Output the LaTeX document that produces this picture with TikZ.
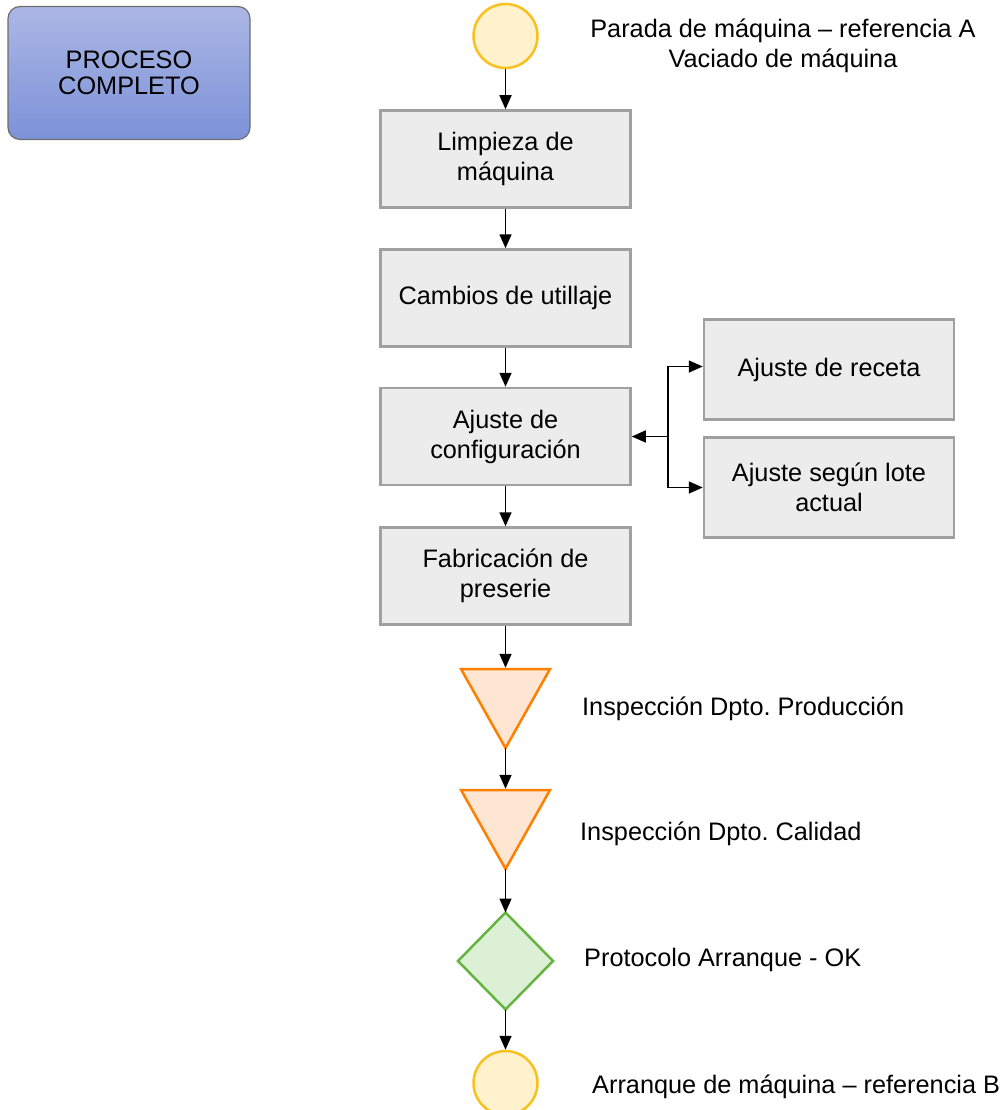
\documentclass[tikz,border=0pt]{standalone}
\usepackage{fontspec}
\setmainfont{Liberation Sans}
\usetikzlibrary{arrows.meta,shapes.geometric}
\frenchspacing

\definecolor{boxfill}{RGB}{236,236,236}
\definecolor{boxline}{RGB}{160,160,160}
\definecolor{termfill}{RGB}{255,242,204}
\definecolor{termline}{RGB}{250,192,30}
\definecolor{inspfill}{RGB}{255,230,210}
\definecolor{inspline}{RGB}{255,128,0}
\definecolor{okfill}{RGB}{220,240,214}
\definecolor{okline}{RGB}{102,180,64}
\definecolor{proctop}{RGB}{172,183,228}
\definecolor{procbot}{RGB}{124,146,216}
\definecolor{procline}{RGB}{110,110,110}

\begin{document}
\begin{tikzpicture}[x=1pt,y=-1pt,
  every node/.style={font=\fontsize{25.3}{30}\selectfont},
  stepbox/.style={draw=boxline, fill=boxfill, line width=2.5pt,
    minimum width=250pt, minimum height=97pt, align=center, inner sep=0pt},
  sidebox/.style={stepbox, minimum height=100pt},
  terminal/.style={circle, draw=termline, fill=termfill, line width=2.5pt,
    minimum size=64pt, inner sep=0pt},
  inspect/.style={draw=inspline, fill=inspfill, line width=2.5pt},
  check/.style={diamond, draw=okline, fill=okfill, line width=2.5pt,
    minimum width=95pt, minimum height=97pt, inner sep=0pt, outer sep=0pt},
  lbl/.style={inner sep=0pt},
  arr/.style={draw=black, line width=1.6pt, -{Triangle[length=14pt,width=12pt]}}
]
\path[use as bounding box, clip] (0,0) rectangle (1007,1110);

% title block
\node[draw=procline, line width=1.2pt, rounded corners=12pt,
      top color=proctop, bottom color=procbot,
      minimum width=242pt, minimum height=133pt, inner sep=0pt,
      align=center, font=\fontsize{25.3}{26}\selectfont]
  (proc) at (129,73) {PROCESO\\COMPLETO};

% main column
\node[terminal] (start) at (505.5,36) {};
\node[lbl, align=center] (startlbl) at (783,46)
  {Parada de máquina – referencia A\\Vaciado de máquina};

\node[stepbox] (clean) at (505.5,159) {Limpieza de\\máquina};
\node[stepbox] (tool)  at (505.5,298) {Cambios de utillaje};
\node[stepbox] (cfg)   at (505.5,436.5) {Ajuste de\\configuración};
\node[stepbox] (pre)   at (505.5,576) {Fabricación de\\preserie};

% side adjustments
\node[sidebox] (recipe) at (829,369.5) {Ajuste de receta};
\node[sidebox] (batch)  at (829,487.5) {Ajuste según lote\\actual};

% inspections
\coordinate (insAn) at (505.5,669);
\coordinate (insAs) at (505.5,748);
\draw[inspect] (461,669) -- (550,669) -- (insAs) -- cycle;
\node[lbl, anchor=base west] (insAlbl) at (582,715) {Inspección Dpto. Producción};

\coordinate (insBn) at (505.5,790);
\coordinate (insBs) at (505.5,869);
\draw[inspect] (461,790) -- (550,790) -- (insBs) -- cycle;
\node[lbl, anchor=base west] (insBlbl) at (580,840) {Inspección Dpto. Calidad};

% start-up check and end
\node[check] (ok) at (505.5,961) {};
\node[lbl, anchor=base west] (oklbl) at (584,966) {Protocolo Arranque - OK};

\node[terminal] (finish) at (505.5,1083) {};
\node[lbl, anchor=base west] (finishlbl) at (592,1093) {Arranque de máquina – referencia B};

% connectors
\draw[arr] (start) -- (clean);
\draw[arr] (clean) -- (tool);
\draw[arr] (tool) -- (cfg);
\draw[arr] (cfg) -- (pre);
\draw[arr, shorten >=1.2pt] (pre) -- (insAn);
\draw[arr, shorten >=1.2pt] (insAs) -- (insBn);
\draw[arr] (insBs) -- (ok);
\draw[arr] (ok) -- (finish);

\coordinate (fork) at (668,436.5);
\draw[arr] (fork) -- (cfg);
\draw[arr] (fork) |- ([yshift=3pt]recipe.west);
\draw[arr] (fork) |- (batch);
\end{tikzpicture}
\end{document}
